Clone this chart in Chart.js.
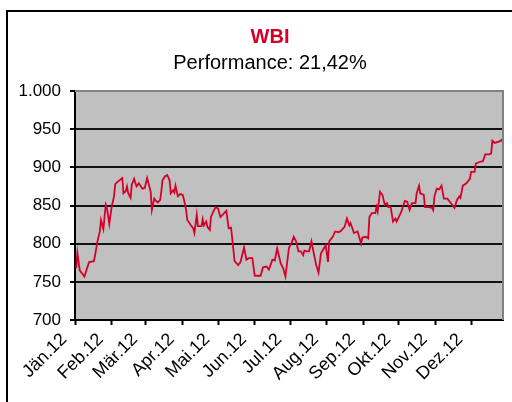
<!DOCTYPE html>
<html>
<head>
<meta charset="utf-8">
<script src="https://cdn.jsdelivr.net/npm/chart.js@4/dist/chart.umd.min.js"></script>
<style>
  html, body { margin: 0; padding: 0; background: #fff; }
  #wrap { position: relative; width: 512px; height: 402px; }
</style>
</head>
<body>
<div id="wrap"><canvas id="chart"></canvas></div>
<script>
// Monatsbeschriftung der x-Achse (Tag im Jahr 2012, 0 = 1. Jänner)
const monthLabels = ['Jän.12', 'Feb.12', 'Mär.12', 'Apr.12', 'Mai.12', 'Jun.12',
  'Jul.12', 'Aug.12', 'Sep.12', 'Okt.12', 'Nov.12', 'Dez.12']
const monthStarts = [0, 31, 60, 91, 121, 152, 182, 213, 244, 274, 305, 335]

// WBI Schlusskurse (Tag im Jahr, Wert)
const days = [1, 2, 4, 8, 10, 12, 16, 17, 19, 21,
  22, 24, 26, 27, 29, 31, 33, 34, 36, 40,
  41, 43, 44, 45, 47, 48, 50, 52, 54, 57,
  59, 61, 64, 65, 67, 68, 70, 72, 73, 74,
  76, 78, 80, 81, 83, 84, 85, 87, 89, 91,
  92, 94, 95, 98, 100, 101, 103, 104, 107, 108,
  109, 111, 112, 114, 115, 117, 119, 121, 123, 125,
  128, 130, 132, 135, 138, 140, 143, 145, 147, 150,
  152, 157, 159, 162, 164, 167, 169, 171, 174, 176,
  178, 181, 183, 185, 187, 189, 191, 193, 194, 196,
  198, 200, 202, 204, 206, 208, 212, 214, 215, 218,
  220, 223, 225, 228, 230, 232, 233, 236, 239, 242,
  243, 246, 248, 249, 251, 254, 255, 256, 258, 260,
  262, 264, 265, 267, 269, 271, 272, 274, 276, 279,
  281, 283, 285, 288, 289, 291, 292, 295, 296, 299,
  302, 303, 304, 306, 308, 310, 312, 315, 317, 321,
  323, 325, 326, 328, 331, 334, 335, 338, 339, 342,
  345, 347, 350, 352, 353, 355, 359, 361, 362]
const wbi = [768, 788, 765, 757, 767, 776, 777, 785, 803, 816,
  831, 819, 851, 847, 826, 848, 862, 878, 881, 886,
  866, 869, 875, 866, 860, 877, 885, 875, 879, 872,
  873, 886, 868, 844, 859, 857, 854, 857, 868, 883,
  888, 890, 883, 866, 870, 867, 876, 862, 865, 864,
  859, 844, 831, 824, 820, 814, 838, 823, 823, 832,
  824, 829, 822, 818, 835, 842, 848, 846, 835, 838,
  843, 820, 821, 777, 772, 776, 795, 779, 781, 781,
  758, 758, 769, 770, 766, 779, 778, 794, 774, 768,
  757, 795, 800, 809, 803, 790, 790, 785, 791, 790,
  790, 803, 787, 772, 762, 787, 798, 776, 803, 809,
  816, 815, 817, 822, 833, 824, 827, 814, 816, 800,
  808, 809, 807, 835, 840, 840, 848, 842, 868, 864,
  851, 853, 848, 848, 829, 833, 829, 835, 842, 856,
  855, 844, 853, 853, 866, 876, 866, 864, 848, 848,
  847, 844, 862, 872, 871, 876, 859, 859, 855, 847,
  857, 862, 860, 876, 879, 885, 894, 894, 905, 907,
  908, 917, 917, 918, 935, 932, 934, 936, 932]

const yMin = 700
const yMax = 1000
const yStep = 50

const FONT = '"Liberation Sans", Arial, sans-serif'

// Rahmen + grauer Plotbereich
const frame = {
  id: 'frame',
  afterLayout(chart) {
    // Beschriftung der y-Achse darf links über die Achsenbox hinausragen
    chart.scales.y.left = 0
  },
  beforeDraw(chart) {
    const { ctx, chartArea: a } = chart
    ctx.save()
    ctx.fillStyle = '#fff'
    ctx.fillRect(0, 0, chart.width, chart.height)
    ctx.strokeStyle = '#000'
    ctx.lineWidth = 2
    ctx.beginPath()
    ctx.moveTo(7, chart.height)
    ctx.lineTo(7, 11)
    ctx.lineTo(chart.width, 11)
    ctx.stroke()
    ctx.fillStyle = '#c0c0c0'
    ctx.fillRect(a.left, a.top, a.right - a.left, a.bottom - a.top)
    ctx.restore()
  },
  afterDatasetsDraw(chart) {
    const { ctx, chartArea: a } = chart
    ctx.save()
    ctx.strokeStyle = '#808080'
    ctx.lineWidth = 2
    ctx.beginPath()
    ctx.moveTo(a.left, a.top)
    ctx.lineTo(a.right, a.top)
    ctx.lineTo(a.right, a.bottom)
    ctx.stroke()
    ctx.restore()
  }
}

const fmt = v => String(v).replace(/\B(?=(\d{3})+(?!\d))/g, '.')

new Chart(document.getElementById('chart'), {
  type: 'line',
  data: {
    datasets: [{
      data: days.map((d, i) => ({ x: d, y: wbi[i] })),
      borderColor: '#d4002a',
      borderWidth: 1.8,
      pointRadius: 0,
      tension: 0,
      fill: false
    }]
  },
  options: {
    responsive: true,
    maintainAspectRatio: false,
    animation: false,
    layout: { padding: { left: 37, right: 9, top: 25, bottom: 0 } },
    plugins: {
      legend: { display: false },
      tooltip: { enabled: false },
      title: {
        display: true,
        text: 'WBI',
        color: '#d4002a',
        font: { family: FONT, size: 20, weight: 'bold', lineHeight: 1.2 },
        padding: { top: 0, bottom: 2 }
      },
      subtitle: {
        display: true,
        text: 'Performance: 21,42%',
        color: '#000',
        font: { family: FONT, size: 20, weight: 'normal', lineHeight: 1.2 },
        padding: { top: 0, bottom: 16 }
      }
    },
    scales: {
      x: {
        type: 'linear',
        min: 0,
        max: 362,
        afterBuildTicks: scale => { scale.ticks = monthStarts.map(v => ({ value: v })) },
        afterFit: scale => { scale.height = 82 },
        grid: {
          drawOnChartArea: false,
          drawTicks: true,
          tickLength: 5,
          tickColor: '#000',
          tickWidth: 2
        },
        border: { color: '#000', width: 2 },
        ticks: {
          autoSkip: false,
          minRotation: 45,
          maxRotation: 45,
          labelOffset: -11,
          padding: 4,
          color: '#000',
          font: { family: FONT, size: 18 },
          callback: v => monthLabels[monthStarts.indexOf(v)]
        }
      },
      y: {
        min: yMin,
        max: yMax,
        afterFit: scale => { scale.width = 38 },
        grid: {
          color: '#111',
          lineWidth: 2,
          tickLength: 5,
          tickColor: '#000'
        },
        border: { color: '#000', width: 2 },
        ticks: {
          stepSize: yStep,
          padding: 9,
          color: '#000',
          font: { family: FONT, size: 17 },
          callback: v => fmt(v)
        }
      }
    }
  },
  plugins: [frame]
})
</script>
</body>
</html>
